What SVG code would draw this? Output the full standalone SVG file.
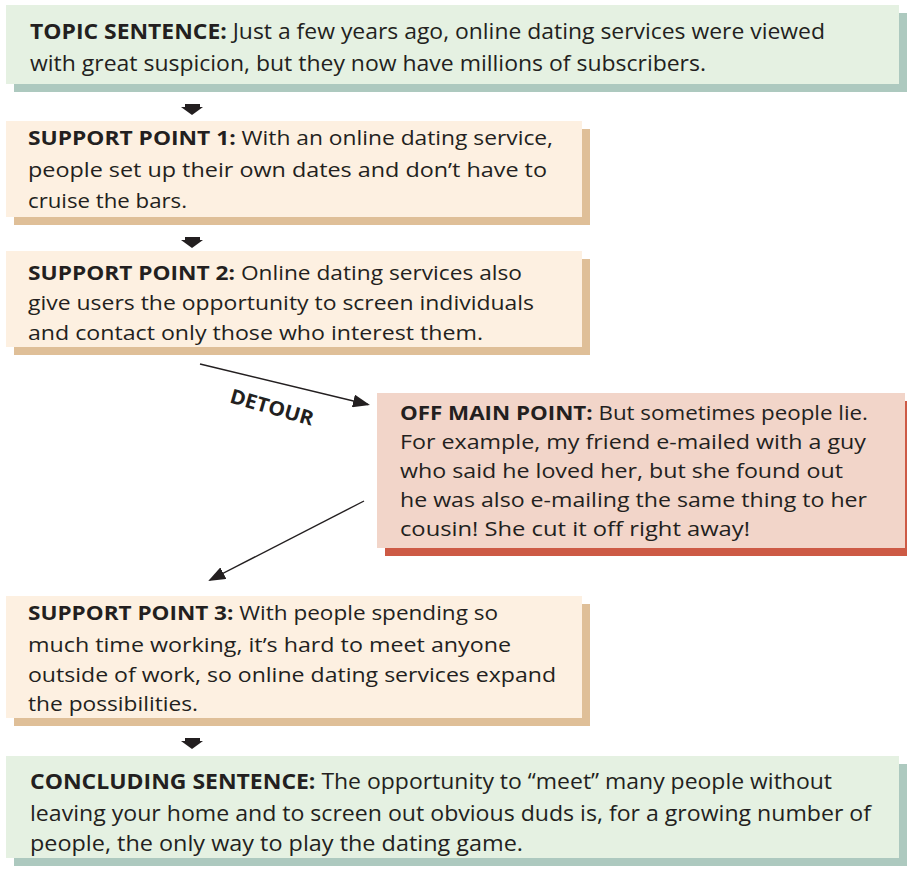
<svg xmlns="http://www.w3.org/2000/svg" width="907" height="870" viewBox="0 0 907 870">
<defs>
<style>
.t{font-family:"Open Sans","DejaVu Sans",sans-serif;font-size:20px;fill:#231f20}
.c{font-family:"Open Sans","DejaVu Sans",sans-serif;font-size:21.5px;fill:#231f20}
.b{font-weight:bold}
.gf{fill:#e5f1e2}.gs{fill:#adc9bf}
.yf{fill:#fdf0e1}.ys{fill:#dfbf98}
.pf{fill:#f2d5c9}.ps{fill:#cd5a45}
.ln{stroke:#231f20;stroke-width:1.4;fill:none}
.ah{fill:#231f20}
</style>
<marker id="arr" viewBox="0 0 17 13" refX="15" refY="6.5" markerWidth="17" markerHeight="13" markerUnits="userSpaceOnUse" orient="auto">
<path d="M0,0 L17,6.5 L0,13 Z" fill="#231f20"/>
</marker>
</defs>
<rect width="907" height="870" fill="#ffffff"/>

<g id="topic">
<rect class="gs" x="14" y="13" width="893" height="79"/>
<rect class="gf" x="6" y="5" width="893" height="79"/>
<text class="c" x="30" y="39" textLength="795" lengthAdjust="spacingAndGlyphs"><tspan class="b">TOPIC SENTENCE:</tspan> Just a few years ago, online dating services were viewed</text>
<text class="c" x="30" y="71" textLength="676" lengthAdjust="spacingAndGlyphs">with great suspicion, but they now have millions of subscribers.</text>
</g>

<g id="support1">
<rect class="ys" x="14" y="129" width="576" height="96"/>
<rect class="yf" x="6" y="121" width="576" height="96"/>
<text class="t" x="28" y="145" textLength="525" lengthAdjust="spacingAndGlyphs"><tspan class="b">SUPPORT POINT 1:</tspan> With an online dating service,</text>
<text class="t" x="28" y="177" textLength="519" lengthAdjust="spacingAndGlyphs">people set up their own dates and don’t have to</text>
<text class="t" x="28" y="208" textLength="159" lengthAdjust="spacingAndGlyphs">cruise the bars.</text>
</g>

<g id="support2">
<rect class="ys" x="14" y="259" width="576" height="96"/>
<rect class="yf" x="6" y="251" width="576" height="96"/>
<text class="t" x="28" y="280" textLength="494" lengthAdjust="spacingAndGlyphs"><tspan class="b">SUPPORT POINT 2:</tspan> Online dating services also</text>
<text class="t" x="28" y="310" textLength="506" lengthAdjust="spacingAndGlyphs">give users the opportunity to screen individuals</text>
<text class="t" x="28" y="340" textLength="455" lengthAdjust="spacingAndGlyphs">and contact only those who interest them.</text>
</g>

<g id="offmain">
<rect class="ps" x="385" y="401" width="528" height="155"/>
<rect class="pf" x="377" y="393" width="528" height="155"/>
<text class="t" x="400" y="420" textLength="468" lengthAdjust="spacingAndGlyphs"><tspan class="b">OFF MAIN POINT:</tspan> But sometimes people lie.</text>
<text class="t" x="400" y="449" textLength="466" lengthAdjust="spacingAndGlyphs">For example, my friend e-mailed with a guy</text>
<text class="t" x="400" y="478" textLength="443" lengthAdjust="spacingAndGlyphs">who said he loved her, but she found out</text>
<text class="t" x="400" y="507" textLength="467" lengthAdjust="spacingAndGlyphs">he was also e-mailing the same thing to her</text>
<text class="t" x="400" y="536" textLength="350" lengthAdjust="spacingAndGlyphs">cousin! She cut it off right away!</text>
</g>

<g id="support3">
<rect class="ys" x="14" y="604" width="576" height="122"/>
<rect class="yf" x="6" y="596" width="576" height="122"/>
<text class="t" x="28" y="620" textLength="470" lengthAdjust="spacingAndGlyphs"><tspan class="b">SUPPORT POINT 3:</tspan> With people spending so</text>
<text class="t" x="28" y="652" textLength="483" lengthAdjust="spacingAndGlyphs">much time working, it’s hard to meet anyone</text>
<text class="t" x="28" y="682" textLength="528" lengthAdjust="spacingAndGlyphs">outside of work, so online dating services expand</text>
<text class="t" x="28" y="711" textLength="170" lengthAdjust="spacingAndGlyphs">the possibilities.</text>
</g>

<g id="concluding">
<rect class="gs" x="14" y="764" width="893" height="102"/>
<rect class="gf" x="6" y="756" width="893" height="102"/>
<text class="c" x="30" y="789" textLength="802" lengthAdjust="spacingAndGlyphs"><tspan class="b">CONCLUDING SENTENCE:</tspan> The opportunity to “meet” many people without</text>
<text class="c" x="30" y="821" textLength="841" lengthAdjust="spacingAndGlyphs">leaving your home and to screen out obvious duds is, for a growing number of</text>
<text class="c" x="30" y="851" textLength="493" lengthAdjust="spacingAndGlyphs">people, the only way to play the dating game.</text>
</g>

<g id="connectors">
<polygon class="ah" points="185,104 200,104 200,107 203,107 192,115 181,107 185,107"/>
<polygon class="ah" points="185,237 200,237 200,240 203,240 192,248 181,240 185,240"/>
<polygon class="ah" points="185,738 200,738 200,741 203,741 192,749 181,741 185,741"/>
<line class="ln" x1="200" y1="364" x2="368" y2="404.5" marker-end="url(#arr)"/>
<line class="ln" x1="364" y1="501" x2="210" y2="580" marker-end="url(#arr)"/>
<text x="0" y="0" transform="translate(270,414) rotate(16)" text-anchor="middle" font-family="'Open Sans','DejaVu Sans',sans-serif" font-size="20" font-weight="bold" fill="#231f20" textLength="86" lengthAdjust="spacingAndGlyphs">DETOUR</text>
</g>
</svg>
